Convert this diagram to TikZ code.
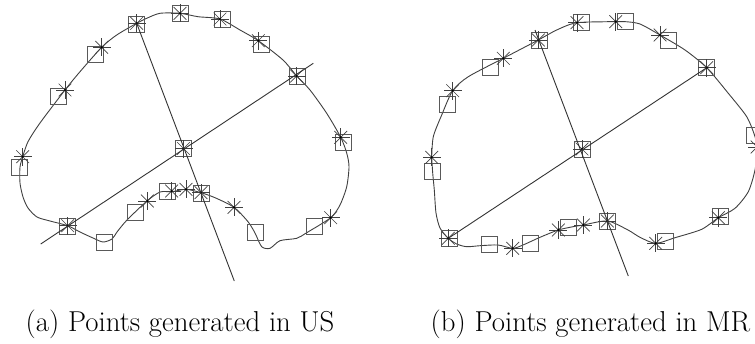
\documentclass[tikz,border=0pt]{standalone}
\tikzset{
  contour/.style={draw=black!75,line width=0.9pt,smooth,tension=0.45},
  axisline/.style={draw=black!80,line width=0.9pt},
  sq/.style={draw=black!65,line width=1.0pt,minimum size=16pt,inner sep=0pt,outer sep=0pt,fill=none},
  starmark/.pic={\foreach \a in {0,45,...,315}{\draw[black!75,line width=0.7pt] (0,0) -- (\a:9);}
     \fill[black] (0,0) circle (1.2);},
  caption/.style={anchor=base west,inner sep=0pt,font=\fontsize{28.8}{34}\selectfont}
}
\begin{document}
\begin{tikzpicture}[x=1pt,y=-1pt]
\useasboundingbox (0,0) rectangle (755,343);
\clip (0,0) rectangle (755,343);
% left contour
\draw[contour] plot coordinates {(22.7,156.7)(20,167)(20,183)(23,197)(28,208)(37,217)(50,221)(67.7,225.7)(80,232)(93,238)(103,242)(112,239)(117,232)(127,220)(147,201)(160,192)(172,191.7)(186,189.3)(201,192.7)(215,197.7)(234,207.3)(248,221.7)(255,233)(261.7,246.7)(270,248.3)(280,240.7)(296.7,238.3)(306.7,232.7)(330.7,217.7)(340,205)(346.7,186.7)(349,166.7)(346.7,153)(340.7,137.3)(326.7,113.3)(310,90)(296.7,76)(283,60)(258.3,40.7)(240,30)(220,19)(198,16.7)(180,13.3)(160,13.3)(146.7,18.3)(136.7,23.3)(116.7,35)(101.7,47.3)(80,71.7)(65,90)(40,123)(28,141.7)(22.7,156.7)};
% right contour
\draw[contour] plot coordinates {(431.7,157.3)(432.7,173)(434.3,190)(436,213)(440,228)(448.3,238.3)(456.7,244)(466.7,246.7)(480,245.7)(498,245)(512.7,248.3)(523,245)(540,237.3)(558.3,230)(573,226.7)(583.3,225)(607.5,221)(628,230)(640,237.3)(655.7,243.3)(675,237.7)(701.7,229.3)(718.3,217.7)(735,208.3)(748.3,191.7)(755,170)(757,150)(755,136.7)(746.7,116.7)(728.3,93.3)(706.7,67.7)(685,50)(660,35)(640,24)(625.7,21.7)(615.7,21.7)(577,22.7)(556.7,30)(538.3,40)(503.3,58.3)(468.3,76.7)(452.7,90.7)(441.7,115)(433.3,136.7)(431.7,157.3)};
% squares
\foreach \n/\x/\y in {la/58.7/96.3,lb/95/54,lc/136.5/24,ld/180.5/13,le/222.3/19.3,lf/261.3/44.7,lg/297.5/76.3,lh/343/142,lcen/183.5/148.5,li/255.3/232,lj/314/226,ll/201.3/193,lm/167.5/191.3,ln/135/212,lo/104.7/242,lp/67.5/226,lq/19.8/167.3,
 ra/447/104.5,rb/490.7/67.3,rc/539.3/40.7,rd/581.3/22,re/625.7/21.7,rf/668.3/40.3,rg/706.3/67.5,rh/754.5/135,rcen/582/149,rp/432.2/171,ro/449/238.7,rn/489/244.5,rm/530.2/243,rl/568.2/227.7,rk/607.7/221.8,rj/665.3/241.2,ri/720.2/216.2}
  \node[sq] (\n) at (\x,\y) {};
% stars
\foreach \x/\y in {65/90,101.7/47.3,136.7/23.3,180/13.3,220/19,258.3/40.7,296.7/76,340.7/137.3,183.5/148.5,234/207.3,330.7/217.7,201/192.7,171.7/191,186/189.3,147.3/201,67.7/225.7,22.7/156.7,
 452.7/90.7,503.3/58.3,538.3/40,577/22.7,615.7/21.7,660/35,706.7/67.7,757/147,582/149,431.7/157.3,448.3/238.3,512.7/248.3,558.3/230,583.3/225,607.3/221,655.7/243.3,718.3/217.7}
  \pic at (\x,\y) {starmark};
% axes
\coordinate (lax1) at (40.7,244);
\coordinate (lax2) at (313.3,63.3);
\coordinate (lbx1) at (136.7,23.3);
\coordinate (lbx2) at (234.3,281);
\coordinate (rax1) at (448.3,238.3);
\coordinate (rax2) at (706.7,67.7);
\coordinate (rbx1) at (535,30);
\coordinate (rbx2) at (628.3,276);
\draw[axisline] (lax1) -- (lax2);
\draw[axisline] (lbx1) -- (lbx2);
\draw[axisline] (rax1) -- (rax2);
\draw[axisline] (rbx1) -- (rbx2);
% captions
\node[caption] (capa) at (25.5,331) {(a) Points generated in US};
\node[caption] (capb) at (430.5,331) {(b) Points generated in MR};
\end{tikzpicture}
\end{document}
